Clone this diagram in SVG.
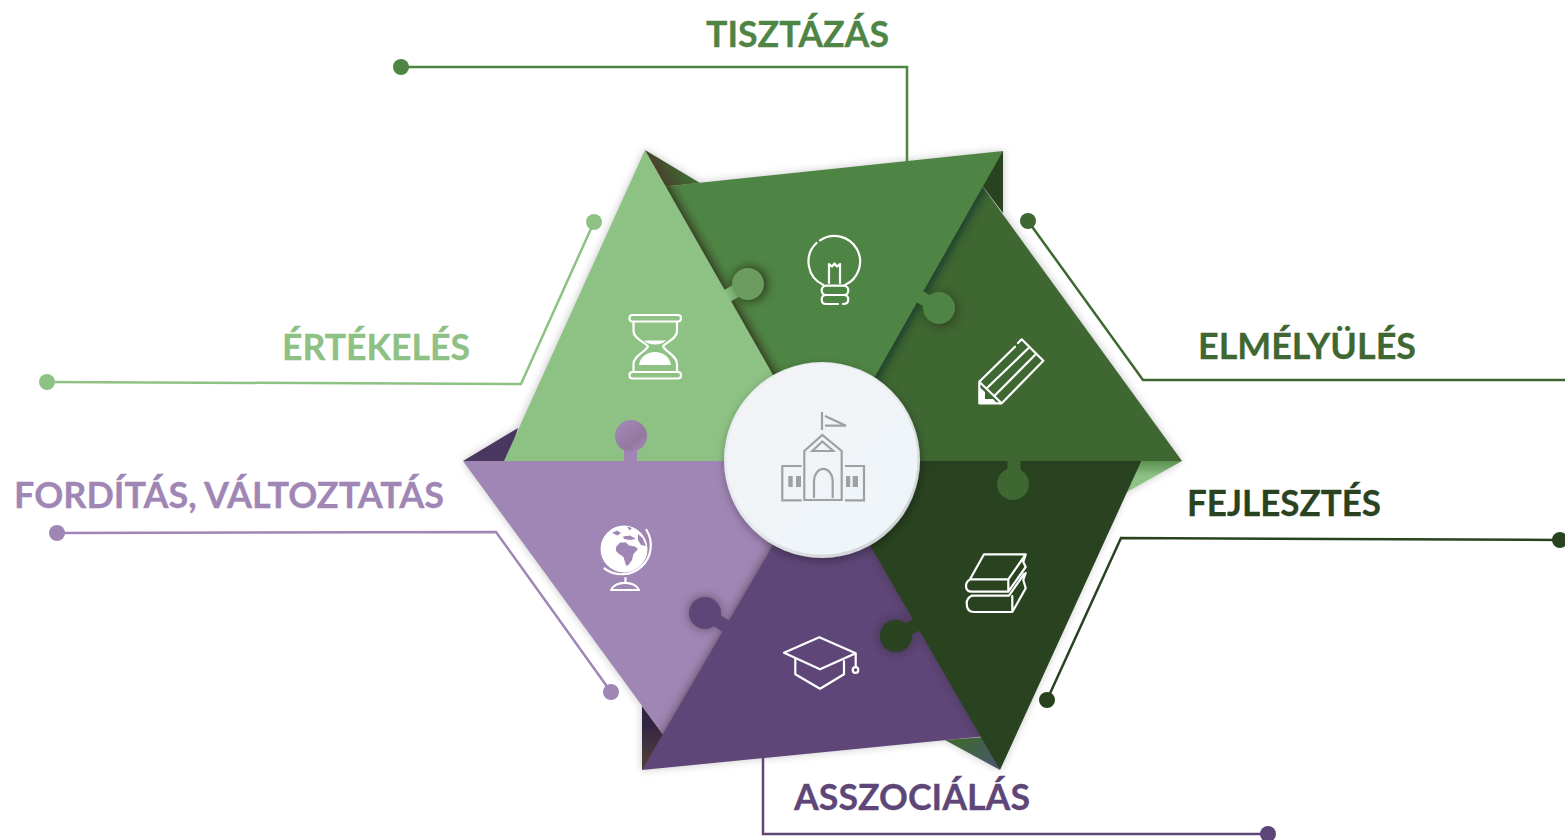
<svg xmlns="http://www.w3.org/2000/svg" width="1565" height="840" viewBox="0 0 1565 840">
<style>
.lb{font-family:"Lato","Carlito","Liberation Sans",sans-serif;font-weight:700;font-size:37px;stroke-width:.3}
.ln{fill:none;stroke-width:2.5}
.ic{fill:none;stroke:#fff;stroke-width:2.2;stroke-linejoin:round;stroke-linecap:round}
.sc{fill:none;stroke:#a0a0a0;stroke-width:2.2;stroke-linejoin:miter}
.sh{fill:#2a1c14;stroke:#2a1c14;stroke-width:6;opacity:.8;filter:url(#blur)}
.ks{fill:#1c140e;opacity:.4;filter:url(#blur)}
.stem{fill:none;stroke-width:13}
</style>
<defs>
<filter id="blur" x="-30%" y="-30%" width="160%" height="160%"><feGaussianBlur stdDeviation="5"/></filter>
<filter id="soft" x="-10%" y="-10%" width="120%" height="120%"><feGaussianBlur stdDeviation="4"/></filter>
<filter id="cshadow" x="-20%" y="-20%" width="140%" height="140%"><feDropShadow dx="1" dy="3" stdDeviation="5" flood-color="#000" flood-opacity=".35"/></filter>
<linearGradient id="gF1" gradientUnits="userSpaceOnUse" x1="662" y1="182" x2="682" y2="170"><stop offset="0" stop-color="#4a3f2a"/><stop offset="1" stop-color="#3f6732"/></linearGradient>
<linearGradient id="gF2" gradientUnits="userSpaceOnUse" x1="1150" y1="462" x2="1150" y2="490"><stop offset="0" stop-color="#5f9455"/><stop offset=".5" stop-color="#8ec184"/></linearGradient>
<linearGradient id="gF3" gradientUnits="userSpaceOnUse" x1="965" y1="735" x2="995" y2="765"><stop offset="0" stop-color="#3f6732"/><stop offset="1" stop-color="#48586a"/></linearGradient>
<linearGradient id="gF4" gradientUnits="userSpaceOnUse" x1="645" y1="725" x2="650" y2="760"><stop offset="0" stop-color="#332544"/><stop offset="1" stop-color="#4d3c3a"/></linearGradient>
<linearGradient id="gK" gradientUnits="userSpaceOnUse" x1="726" y1="296" x2="748" y2="284"><stop offset="0" stop-color="#8ec184"/><stop offset=".5" stop-color="#6c9c60"/></linearGradient>
<linearGradient id="gP" gradientUnits="userSpaceOnUse" x1="620" y1="425" x2="640" y2="450"><stop offset="0" stop-color="#a086b5"/><stop offset=".7" stop-color="#96789f"/><stop offset="1" stop-color="#a086b5"/></linearGradient>
<linearGradient id="gC" x1="0" y1="0" x2="1" y2="1"><stop offset="0" stop-color="#f3f3f5"/><stop offset="1" stop-color="#edf5fa"/></linearGradient>
<linearGradient id="gR" x1="0" y1="0" x2="1" y2="1"><stop offset="0" stop-color="#e6edf3"/><stop offset=".5" stop-color="#e6e9ec"/><stop offset="1" stop-color="#c9c9cd"/></linearGradient>
<clipPath id="cMid"><polygon points="1003,151 660,187 822,470"/></clipPath>
<clipPath id="cDark"><polygon points="1182,461 972,172 815,461"/></clipPath>
<clipPath id="cDarkest"><polygon points="1144,455 818,455 1000,770"/></clipPath>
<clipPath id="cPur"><polygon points="642,770 987,736 822,461"/></clipPath>
<clipPath id="cLil"><polygon points="463,461 830,461 670,744"/></clipPath>
<clipPath id="cLg"><polygon points="645,150 504,461 822,461"/></clipPath>
</defs>

<g id="hex-shadow" filter="url(#soft)" fill="#000" fill-opacity=".22">
<polygon points="645,150 700,183 1003,151 1003,213 1182,461 1125,493 1000,770 945,740 642,770 642,706 463,461 518,428"/>
</g>

<g id="connectors">
<path class="ln" stroke="#4f8544" d="M401,67H907V165"/>
<circle cx="401" cy="67" r="8" fill="#4f8544"/>
<path class="ln" stroke="#8ec184" d="M47,382L521,384L594,222"/>
<circle cx="47" cy="382" r="8" fill="#8ec184"/><circle cx="594" cy="222" r="8" fill="#8ec184"/>
<path class="ln" stroke="#a086b5" d="M57,533L496,532L611,692"/>
<circle cx="57" cy="533" r="8" fill="#a086b5"/><circle cx="611" cy="692" r="8" fill="#a086b5"/>
<path class="ln" stroke="#3f6732" d="M1028,221L1143,380H1565"/>
<circle cx="1028" cy="221" r="8" fill="#3f6732"/>
<path class="ln" stroke="#294321" d="M1047,700L1121,538L1560,540"/>
<circle cx="1047" cy="700" r="8" fill="#294321"/><circle cx="1560" cy="540" r="8" fill="#294321"/>
<path class="ln" stroke="#5e4778" d="M763,750V834H1268"/>
<circle cx="1268" cy="834" r="8" fill="#5e4778"/>
</g>

<g id="folds">
<polygon points="645,150 700,183 660,187" fill="url(#gF1)"/>
<polygon points="1003,151 1003,213 975,176" fill="#294321"/>
<polygon points="1182,461 1135,461 1125,493" fill="url(#gF2)"/>
<polygon points="1000,770 985,737 945,740" fill="url(#gF3)"/>
<polygon points="642,706 670,744 642,770" fill="url(#gF4)"/>
<polygon points="463,461 518,428 508,461" fill="#4a3760"/>
</g>

<g id="node-fordit">
<polygon points="463,461 830,461 670,744" fill="#a086b5"/>
<g class="globe">
<circle cx="624" cy="549" r="23.5" fill="#fff"/>
<path fill="#a086b5" d="M616,547L620,542.500L626,542.500L629,545.500L635,546.500L638,549L633.500,554L632,560L628,565.500L626,565.500L623.500,557L618.500,553.500L616,551ZM612,533L617,530.500L621,533L617.500,535.500ZM623,536.500L630,535.500L636,539L630,540L624,539ZM638,534L642.500,538L646,546L641,545L638,540ZM627,526.500L632,528L629.500,530.500Z"/>
<path class="ic" stroke-width="2" d="M646.500,530A29,29 0 0 1 604.500,568.500M625.500,578V582M611,590A15,11 0 0 1 639,590Z"/>
</g>
<text class="lb" x="14" y="508" fill="#a086b5" stroke="#a086b5" textLength="430" lengthAdjust="spacingAndGlyphs">FORDÍTÁS, VÁLTOZTATÁS</text>
</g>

<g id="node-asszocialas">
<g clip-path="url(#cLil)"><polygon class="sh" style="opacity:.5;stroke-width:2" points="642,770 987,736 822,461"/><circle class="ks" cx="705" cy="613" r="17"/></g>
<polygon points="642,770 987,736 822,461" fill="#5e4778"/>
<path class="stem" stroke="#5e4778" d="M705,613L727,627"/>
<circle cx="705" cy="613" r="16" fill="#5e4778"/>
<path class="ic" d="M784,652.700L819.300,637.300L855.700,653.300L820,669.300ZM795.300,659.300V674.300L820,688.700L844,674.300V661M855.700,653.300V667"/>
<circle class="ic" cx="855.500" cy="670" r="2.800"/>
<text class="lb" x="794" y="810" fill="#5e4778" stroke="#5e4778" textLength="236" lengthAdjust="spacingAndGlyphs">ASSZOCIÁLÁS</text>
</g>

<g id="node-fejlesztes">
<g clip-path="url(#cPur)"><polygon class="sh" style="opacity:.3;stroke-width:2" points="1144,455 818,455 1000,770"/><circle class="ks" cx="896" cy="636" r="17"/></g>
<polygon points="1144,455 818,455 1000,770" fill="#294321"/>
<path class="stem" stroke="#294321" d="M896,636L918,624"/>
<circle cx="896" cy="636" r="16" fill="#294321"/>
<path class="ic" d="M984,554.300H1025.700L1008.300,579.300H970L984,554.300ZM970,579.300Q966,582 966,585.700Q966,591.700 972,591.700H1008.300V579.300M1008.300,591.700L1025.700,567L1023.300,562L1025.700,554.300M971.700,595.700Q966.700,598 966.700,603.300Q966.700,612 974,612H1012.300L1025.700,588.300L1023.300,580L1025.700,573M972,595.700H1009L1024,574M1012.300,612V596"/>
<text class="lb" x="1187" y="516" fill="#294321" stroke="#294321" textLength="194" lengthAdjust="spacingAndGlyphs">FEJLESZTÉS</text>
</g>

<g id="node-elmelyules">
<g clip-path="url(#cDarkest)"><polygon class="sh" style="opacity:.12" points="1182,461 972,172 815,461"/></g>
<polygon points="1182,461 972,172 815,461" fill="#3f6732"/>
<path class="stem" stroke="#3f6732" d="M1014,459V484"/>
<circle cx="1013" cy="484" r="16" fill="#3f6732"/>
<path class="ic" d="M1015,346.700L979.300,381.700V403.300H1001.700L1043.300,360.700L1021.700,339.300L1018,343M979.300,381.700L1001.700,403.300M986.700,388.300L1028.300,348.300M994.300,396L1035.700,354.300"/>
<polygon points="979.300,403.300 979.300,387 985,392 985,399 993,399 997,403.300" fill="#fff"/>
<text class="lb" x="1198" y="359" fill="#3f6732" stroke="#3f6732" textLength="218" lengthAdjust="spacingAndGlyphs">ELMÉLYÜLÉS</text>
</g>

<g id="node-tisztazas">
<g clip-path="url(#cDark)"><polygon class="sh" style="fill:#0d2a2a;stroke:#0d2a2a" points="1003,151 660,187 822,470"/><circle class="ks" cx="941" cy="310" r="17"/></g>
<polygon points="1003,151 660,187 822,470" fill="#4f8544"/>
<path class="stem" stroke="#4f8544" d="M917,295L939,308"/>
<circle cx="939" cy="308" r="16" fill="#4f8544"/>
<path class="ic" d="M820,240.300A25.700,25.700 0 1 1 845,285M823.500,285A25.700,25.700 0 0 1 816.500,243M829,283V264L832,266.500L834.500,263.500L837,266.500L840,264V283"/>
<rect class="ic" x="821.700" y="285.700" width="26.600" height="9.300" rx="4.600"/>
<path class="ic" d="M838,304H826Q821.700,304 821.700,299.500Q821.700,295 826,295H844Q848.300,295 848.300,299.500Q848.300,304 843,304"/>
<text class="lb" x="706" y="47" fill="#4f8544" stroke="#4f8544" textLength="183" lengthAdjust="spacingAndGlyphs">TISZTÁZÁS</text>
</g>

<g id="node-ertekeles">
<g clip-path="url(#cMid)"><polygon class="sh" points="645,150 504,461 822,461"/><circle class="ks" cx="750" cy="284" r="17" style="opacity:.7"/></g>
<polygon points="645,150 504,461 822,461" fill="#8ec184"/>
<path class="stem" stroke="url(#gK)" d="M727,296L748,284"/>
<circle cx="748" cy="284" r="16" fill="#6c9c60"/>
<g class="ic">
<rect x="629.500" y="315" width="51.500" height="6.500" rx="3"/>
<rect x="629.500" y="372" width="51.500" height="6.500" rx="3"/>
<path d="M633.500,322V331C633.500,339 645,342 648,346.500C645,352 633.500,356 633.500,364V371.500M677,322V331C677,339 666,342 663,346.500C666,352 677,356 677,364V371.500"/>
</g>
<path fill="#fff" d="M644,340.500H666Q662,344.500 655,344.500Q648,344.500 644,340.500ZM639,365C640,357 647,352 655,352C663,352 670,357 671,365Z"/>
<text class="lb" x="282" y="360" fill="#8ec184" stroke="#8ec184" textLength="188" lengthAdjust="spacingAndGlyphs">ÉRTÉKELÉS</text>
</g>

<g id="knob-fordit">
<path class="stem" stroke="#a086b5" d="M630.500,463V436"/>
<circle cx="631" cy="436" r="16" fill="url(#gP)"/>
</g>

<g id="node-center">
<circle cx="822" cy="460" r="98" fill="url(#gR)" filter="url(#cshadow)"/>
<circle cx="822" cy="459" r="95.500" fill="url(#gC)"/>
<path class="sc" d="M822,412V430M825,416L846,425.700H825M804.300,500V451L822.300,435L841.700,451V500ZM812.300,451L822.300,441.500L833.300,451ZM814,498V481A9.300,12 0 0 1 832.700,481V498M801.700,466H782.300V500.300H801.700M845,466H864V500.300H845"/>
<path fill="#a0a0a0" d="M788.300,476h4.400v11h-4.400zM796,476h5v11h-5zM846,476h4.200v11h-4.200zM852.700,476h5.300v11h-5.300z"/>
</g>
</svg>
